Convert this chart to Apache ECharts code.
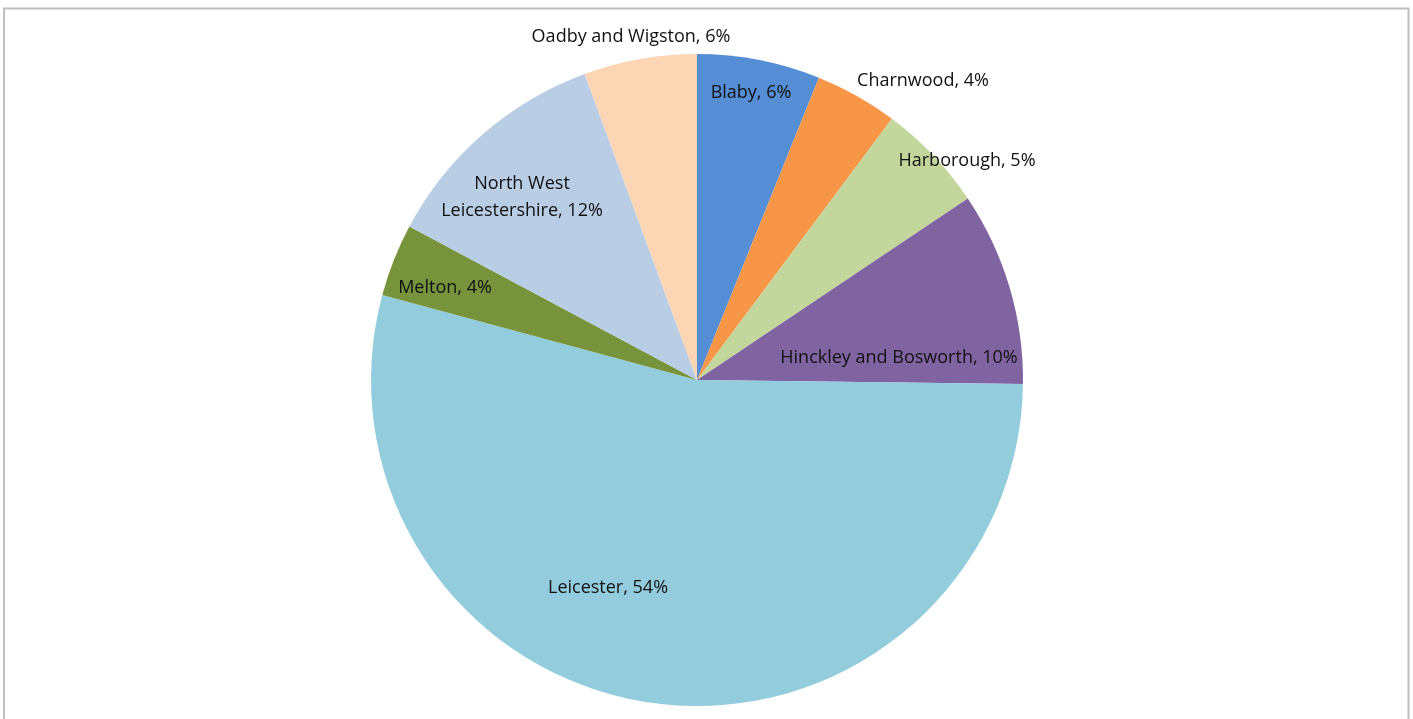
<!DOCTYPE html>
<html>
<head>
<meta charset="utf-8">
<title>Leicestershire districts</title>
<script src="https://cdn.jsdelivr.net/npm/echarts@6/dist/echarts.min.js"></script>
<style>
  html, body { margin: 0; padding: 0; background: #ffffff; }
  #chart { width: 1413px; height: 719px; }
</style>
</head>
<body>
<div id="chart"></div>
<script>
// District shares (percent), clockwise from 12 o'clock
const districts = [
  'Blaby', 'Charnwood', 'Harborough', 'Hinckley and Bosworth',
  'Leicester', 'Melton', 'North West Leicestershire', 'Oadby and Wigston'
];
const shares = [6.1, 4.1, 5.4, 9.6, 54.0, 3.6, 11.6, 5.6];
const sliceColors = [
  '#558ed5', '#f79646', '#c3d69b', '#8064a2',
  '#93cddd', '#77933c', '#b9cde5', '#fcd5b5'
];
// Text shown for each slice (line break where the label wraps)
const labelNames = [
  'Blaby', 'Charnwood', 'Harborough', 'Hinckley and Bosworth',
  'Leicester', 'Melton', 'North West\nLeicestershire', 'Oadby and Wigston'
];

// Label centres in pixels, placed as in the spreadsheet layout
const labelSpots = [
  [751, 93], [923, 81], [967, 161], [899, 358],
  [608, 588], [445, 288], [522, 197], [631, 37]
];

const chart = echarts.init(document.getElementById('chart'), null, { renderer: 'canvas' });

const data = districts.map((name, i) => ({
  name: name,
  value: shares[i],
  itemStyle: { color: sliceColors[i] }
}));

chart.setOption({
  backgroundColor: '#ffffff',
  animation: false,
  graphic: [{
    type: 'rect',
    shape: { x: 4, y: 8.5, width: 1404.5, height: 730 },
    style: { fill: 'none', stroke: '#bfbfbf', lineWidth: 2 },
    silent: true
  }],
  series: [{
    type: 'pie',
    center: [697, 380],
    radius: 326,
    startAngle: 90,
    clockwise: true,
    avoidLabelOverlap: false,
    data: data,
    itemStyle: { borderWidth: 0 },
    labelLine: { show: false },
    label: {
      show: true,
      position: 'inside',
      fontFamily: '"Open Sans", "Noto Sans", sans-serif',
      fontSize: 18,
      lineHeight: 27,
      color: '#111111',
      align: 'center',
      formatter: p => labelNames[p.dataIndex] + ', ' + Math.round(p.value) + '%'
    },
    labelLayout: p => ({
      x: labelSpots[p.dataIndex][0],
      y: labelSpots[p.dataIndex][1],
      align: 'center',
      verticalAlign: 'middle'
    }),
    emphasis: { disabled: true }
  }]
});
</script>
</body>
</html>
